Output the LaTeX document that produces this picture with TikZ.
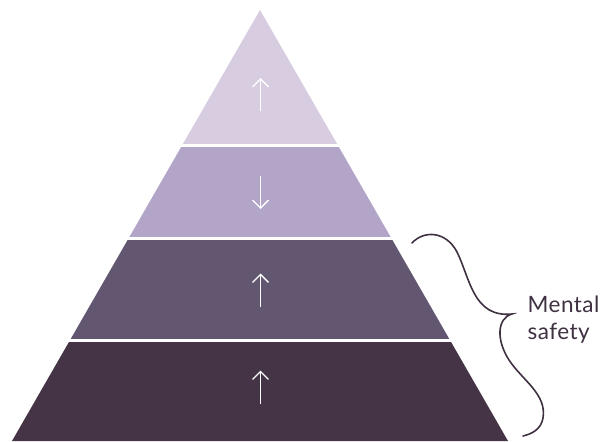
\documentclass[tikz,border=0pt]{standalone}
\usepackage{fontspec}
\setmainfont{Lato}
\usepackage{xcolor}
\usetikzlibrary{arrows.meta}
\definecolor{tierone}{HTML}{D7CCE0}
\definecolor{tiertwo}{HTML}{B3A5C8}
\definecolor{tierthree}{HTML}{635670}
\definecolor{tierfour}{HTML}{443445}
\definecolor{inkdark}{HTML}{3F3042}

\begin{document}
\begin{tikzpicture}[x=1pt,y=-1pt,
  tierarrow/.style={white,line width=1.3pt,-{Straight Barb[length=8pt,width=16pt,line width=1.3pt]}},
  tiergap/.style={white,line width=2.6pt},
  label/.style={inkdark,font=\addfontfeatures{LetterSpace=2}\fontsize{22.5}{27}\selectfont,inner sep=0,anchor=base west}]
\useasboundingbox (0,0) rectangle (609,441);
% tiers of the pyramid, top to bottom
\fill[tierone] (260,10) -- (338.1,145.7) -- (181.9,145.7) -- cycle;
\fill[tiertwo] (181.9,145.7) -- (338.1,145.7) -- (391.4,238.3) -- (128.6,238.3) -- cycle;
\fill[tierthree] (128.6,238.3) -- (391.4,238.3) -- (450.2,340.5) -- (69.8,340.5) -- cycle;
\fill[tierfour] (69.8,340.5) -- (450.2,340.5) -- (508,441) -- (12,441) -- cycle;
\draw[tiergap] (170,145.7) -- (350,145.7);
\draw[tiergap] (115,238.3) -- (405,238.3);
\draw[tiergap] (55,340.5) -- (465,340.5);
% arrows
\draw[tierarrow] (260.5,111) -- (260.5,78);
\draw[tierarrow] (260.5,176) -- (260.5,209);
\draw[tierarrow] (260.5,307) -- (260.5,273.5);
\draw[tierarrow] (260.5,404) -- (260.5,370.5);
% brace and label
\draw[inkdark,line width=1.6pt,line cap=round]
  (412,243) .. controls (424,230) and (446,231) .. (457,252)
  .. controls (470,278) and (473,318) .. (512,314)
  .. controls (497,318) and (496,340) .. (509,360)
  .. controls (522,380) and (547,394) .. (543,418)
  .. controls (541,430) and (531,434) .. (523,436);
\node[label] (mental) at (527.5,312.3) {Mental};
\node[label] (safety) at (527.5,339.3) {safety};
\end{tikzpicture}
\end{document}
